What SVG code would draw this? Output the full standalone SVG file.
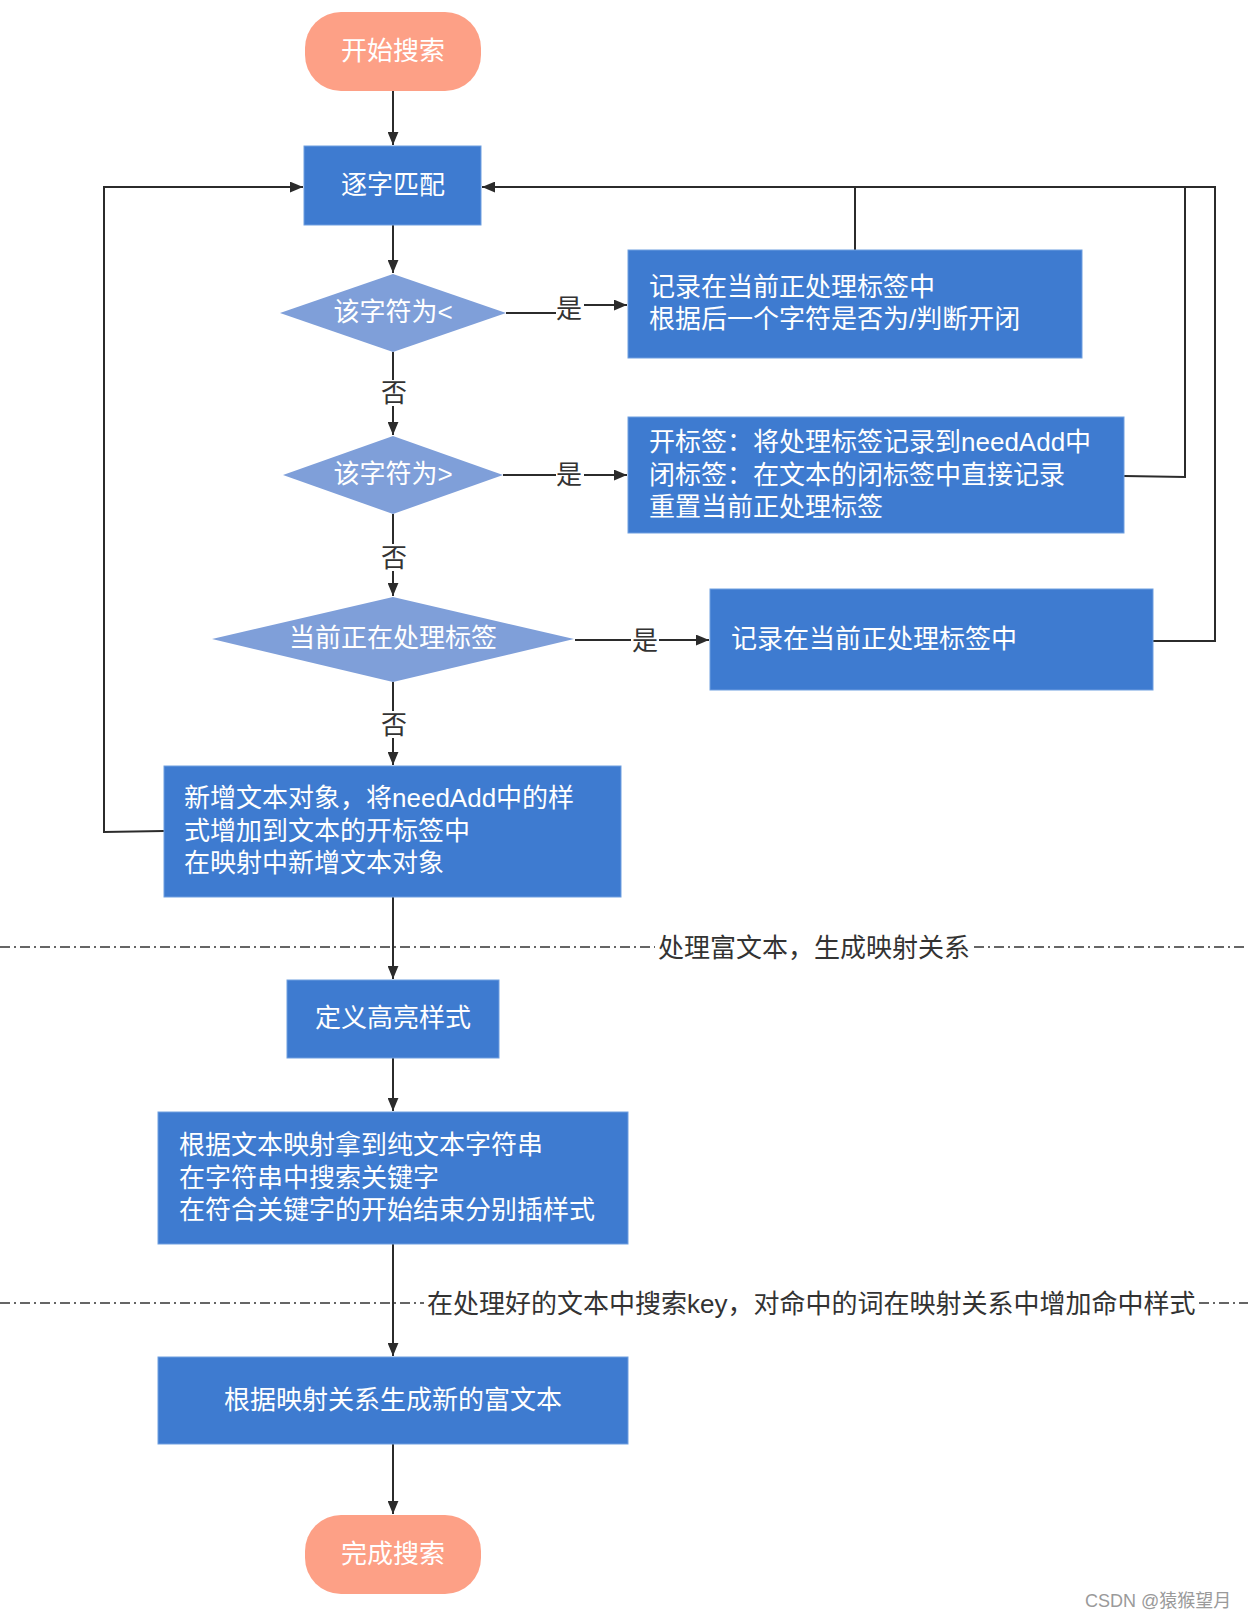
<svg xmlns="http://www.w3.org/2000/svg" width="1248" height="1620" viewBox="0 0 1248 1620">
<defs>
<marker id="ah" viewBox="0 0 12 10" refX="12" refY="5" markerWidth="13" markerHeight="11" markerUnits="userSpaceOnUse" orient="auto">
<path d="M0,0 L12,5 L0,10 Z" fill="#2b2b2b"/>
</marker>
<style>
.box{fill:#3e7bd0;stroke:#6f9fe0;stroke-width:1}
.dia{fill:#7f9fd9}
.term{fill:#fda086}
.wt{font-family:"Liberation Sans","Noto Sans CJK SC",sans-serif;font-size:26px;fill:#ffffff;dominant-baseline:central}
.lb{font-family:"Liberation Sans","Noto Sans CJK SC",sans-serif;font-size:26px;fill:#333333;dominant-baseline:central}
.c{text-anchor:middle}
.ln{fill:none;stroke:#2b2b2b;stroke-width:2}
.dash{fill:none;stroke:#333333;stroke-width:1.5;stroke-dasharray:10 4 2 4}
</style>
</defs>
<rect width="1248" height="1620" fill="#ffffff"/>

<g id="connectors">
<line class="ln" x1="393" y1="91" x2="393" y2="145" marker-end="url(#ah)"/>
<line class="ln" x1="393" y1="225" x2="393" y2="273" marker-end="url(#ah)"/>
<line class="ln" x1="393" y1="352" x2="393" y2="380"/>
<line class="ln" x1="393" y1="406" x2="393" y2="435" marker-end="url(#ah)"/>
<line class="ln" x1="393" y1="514" x2="393" y2="544"/>
<line class="ln" x1="393" y1="571" x2="393" y2="596" marker-end="url(#ah)"/>
<line class="ln" x1="393" y1="682" x2="393" y2="711"/>
<line class="ln" x1="393" y1="738" x2="393" y2="765" marker-end="url(#ah)"/>
<line class="ln" x1="393" y1="897" x2="393" y2="979" marker-end="url(#ah)"/>
<line class="ln" x1="393" y1="1058" x2="393" y2="1111" marker-end="url(#ah)"/>
<line class="ln" x1="393" y1="1244" x2="393" y2="1356" marker-end="url(#ah)"/>
<line class="ln" x1="393" y1="1444" x2="393" y2="1514" marker-end="url(#ah)"/>
<!-- yes branches -->
<line class="ln" x1="506" y1="313" x2="556" y2="313"/>
<line class="ln" x1="584" y1="305" x2="627" y2="305" marker-end="url(#ah)"/>
<line class="ln" x1="503" y1="475" x2="556" y2="475"/>
<line class="ln" x1="584" y1="475" x2="627" y2="475" marker-end="url(#ah)"/>
<line class="ln" x1="575" y1="640" x2="631" y2="640"/>
<line class="ln" x1="659" y1="640" x2="709" y2="640" marker-end="url(#ah)"/>
<!-- loops back -->
<polyline class="ln" points="164,831 104,832 104,187 303,187" marker-end="url(#ah)"/>
<line class="ln" x1="855" y1="250" x2="855" y2="187"/>
<polyline class="ln" points="1124,476 1185,477 1185,187"/>
<polyline class="ln" points="1153,641 1215,641 1215,187 482,187" marker-end="url(#ah)"/>
<!-- section dividers -->
<line class="dash" x1="0" y1="947" x2="655" y2="947"/>
<line class="dash" x1="974" y1="947" x2="1248" y2="947"/>
<line class="dash" x1="0" y1="1303" x2="424" y2="1303"/>
<line class="dash" x1="1199" y1="1303" x2="1248" y2="1303"/>
<text class="lb c" x="569" y="309">是</text>
<text class="lb c" x="569" y="475">是</text>
<text class="lb c" x="645" y="641">是</text>
<text class="lb c" x="394" y="393">否</text>
<text class="lb c" x="394" y="558">否</text>
<text class="lb c" x="394" y="725">否</text>
<text class="lb" x="658" y="948">处理富文本，生成映射关系</text>
<text class="lb" x="427" y="1304">在处理好的文本中搜索key，对命中的词在映射关系中增加命中样式</text>
</g>

<g id="start">
<rect class="term" x="305" y="12" width="176" height="79" rx="36" ry="36"/>
<text class="wt c" x="393" y="51">开始搜索</text>
</g>
<g id="match">
<rect class="box" x="304" y="146" width="177" height="79"/>
<text class="wt c" x="393" y="185">逐字匹配</text>
</g>
<g id="isLt">
<polygon class="dia" points="393,274 506,313 393,352 280,313"/>
<text class="wt c" x="393" y="312">该字符为&lt;</text>
</g>
<g id="recordLt">
<rect class="box" x="628" y="250" width="454" height="108"/>
<text class="wt" x="649" y="287">记录在当前正处理标签中</text>
<text class="wt" x="649" y="319">根据后一个字符是否为/判断开闭</text>
</g>
<g id="isGt">
<polygon class="dia" points="393,436 503,475 393,514 283,475"/>
<text class="wt c" x="393" y="474">该字符为&gt;</text>
</g>
<g id="recordGt">
<rect class="box" x="628" y="417" width="496" height="116"/>
<text class="wt" x="649" y="442">开标签：将处理标签记录到needAdd中</text>
<text class="wt" x="649" y="475">闭标签：在文本的闭标签中直接记录</text>
<text class="wt" x="649" y="507">重置当前正处理标签</text>
</g>
<g id="isProcessing">
<polygon class="dia" points="393,597 574,639 393,682 212,639"/>
<text class="wt c" x="393" y="638">当前正在处理标签</text>
</g>
<g id="recordCur">
<rect class="box" x="710" y="589" width="443" height="101"/>
<text class="wt" x="731" y="639">记录在当前正处理标签中</text>
</g>
<g id="newText">
<rect class="box" x="164" y="766" width="457" height="131"/>
<text class="wt" x="184" y="798">新增文本对象，将needAdd中的样</text>
<text class="wt" x="184" y="831">式增加到文本的开标签中</text>
<text class="wt" x="184" y="863">在映射中新增文本对象</text>
</g>
<g id="defineStyle">
<rect class="box" x="287" y="980" width="212" height="78"/>
<text class="wt c" x="393" y="1018">定义高亮样式</text>
</g>
<g id="searchKey">
<rect class="box" x="158" y="1112" width="470" height="132"/>
<text class="wt" x="179" y="1145">根据文本映射拿到纯文本字符串</text>
<text class="wt" x="179" y="1178">在字符串中搜索关键字</text>
<text class="wt" x="179" y="1210">在符合关键字的开始结束分别插样式</text>
</g>
<g id="genRich">
<rect class="box" x="158" y="1357" width="470" height="87"/>
<text class="wt c" x="393" y="1400">根据映射关系生成新的富文本</text>
</g>
<g id="end">
<rect class="term" x="305" y="1515" width="176" height="79" rx="36" ry="36"/>
<text class="wt c" x="393" y="1554">完成搜索</text>
</g>
<text x="1085" y="1601" font-family="'Liberation Sans','Noto Sans CJK SC',sans-serif" font-size="18" fill="#9a9a9a" dominant-baseline="central">CSDN @猿猴望月</text>
</svg>
